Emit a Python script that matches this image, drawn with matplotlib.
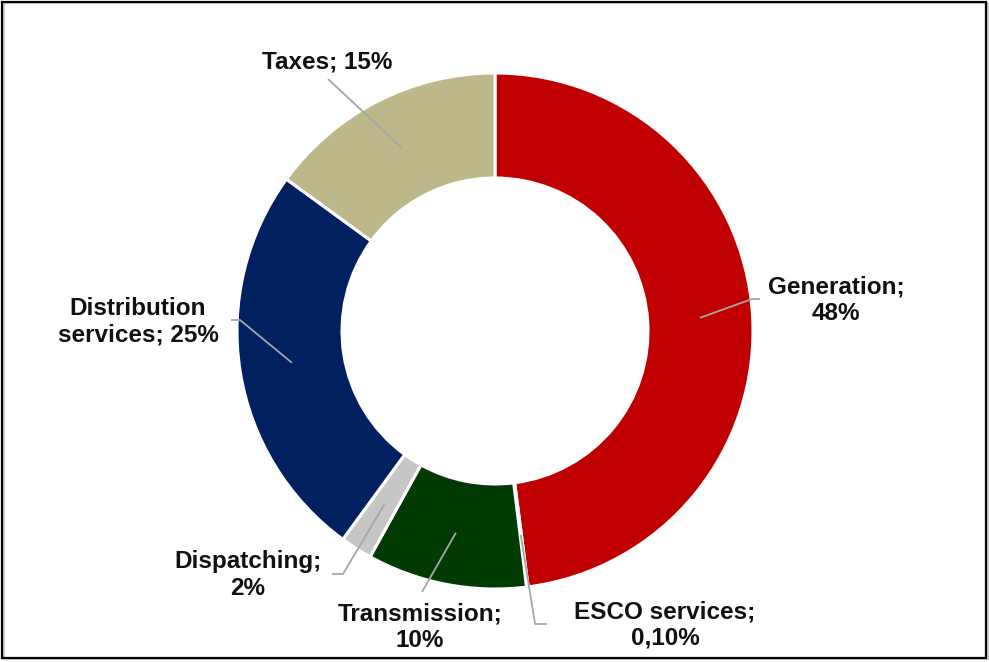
import numpy as np
import matplotlib.pyplot as plt
from matplotlib.patches import Rectangle

# Electricity price breakdown
labels = ["Generation", "ESCO services", "Transmission", "Dispatching",
          "Distribution\nservices", "Taxes"]
shares = [48, 0.1, 10, 2, 25, 15]
share_text = ["48%", "0,10%", "10%", "2%", "25%", "15%"]
colors = ["#C00000", "#F2F2F2", "#013A02", "#C6C6C6", "#002060", "#BCB88A"]

# label layout in pixels: text centre, elbow points of the leader line, separator
label_pos = [(836, 300), (665, 625), (420, 627), (248, 575), (138, 322), (327, 62)]
label_sep = [";\n", ";\n", ";\n", ";\n", "; ", "; "]
elbows = [
    [(752, 299), (760, 299)],
    [(535, 624), (547, 624)],
    [(422, 592)],
    [(343, 574), (332, 574)],
    [(240, 320), (231, 320)],
    [(328, 79)],
]

W, H = 989, 662
CX, CY, R = 495, 331, 258
HOLE = 0.593

plt.rcParams['font.family'] = ['Liberation Sans', 'DejaVu Sans']


def px(x, y):
    return (x - CX) / R, (CY - y) / R


fig = plt.figure(figsize=(W / 100, H / 100), dpi=100)
ax = fig.add_axes([0, 0, 1, 1])

wedges, _ = ax.pie(shares, colors=colors, startangle=90, counterclock=False,
                   radius=1, wedgeprops=dict(width=1 - HOLE, edgecolor='white', linewidth=2.2))

# pie() resets the limits, so set them afterwards
ax.set_xlim(-CX / R, (W - CX) / R)
ax.set_ylim((CY - H) / R, CY / R)
ax.set_aspect('equal')
ax.axis('off')

mid_r = (1 + HOLE) / 2
for w, lab, sep, pct, pos, elb in zip(wedges, labels, label_sep, share_text, label_pos, elbows):
    ang = np.deg2rad((w.theta1 + w.theta2) / 2)
    pts = [(mid_r * np.cos(ang), mid_r * np.sin(ang))] + [px(*p) for p in elb]
    xs, ys = zip(*pts)
    ax.plot(xs, ys, color='#A6A6A6', lw=1.3, solid_capstyle='butt', zorder=3)
    tx, ty = px(*pos)
    ax.text(tx, ty, lab + sep + pct, ha='center', va='center', fontsize=17.5,
            fontweight='bold', color='#111111', linespacing=1.18)

# outer frame with a light shadow
fig.patches.append(Rectangle((4 / W, 3 / H), 984 / W, 656 / H, transform=fig.transFigure,
                             fill=False, edgecolor='#D0D0D0', lw=1.5))
fig.patches.append(Rectangle((2 / W, 4 / H), 984 / W, 656 / H, transform=fig.transFigure,
                             fill=False, edgecolor='black', lw=1.6))

fig.savefig('out.png', dpi=100, facecolor='white')
